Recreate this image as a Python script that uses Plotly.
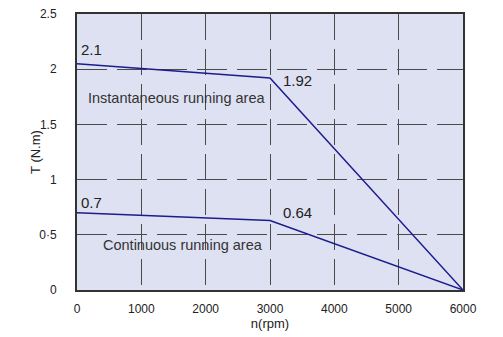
# Torque-speed curve for the motor datasheet
import plotly.graph_objects as go

speed = [0, 3000, 6000]
torque_peak = [2.05, 1.92, 0]
torque_cont = [0.70, 0.63, 0]

x_ticks = [0, 1000, 2000, 3000, 4000, 5000, 6000]
y_ticks = [0, 0.5, 1, 1.5, 2, 2.5]
y_labels = ["0", "0·5", "1", "1.5", "2", "2.5"]

point_labels = ["2.1", "1.92", "0.7", "0.64"]
point_x = [233, 3435, 233, 3420]
point_y = [2.18, 1.895, 0.794, 0.704]

line_color = "#1c1c8e"
grid_color = "#4a4a4a"
narrow = "Liberation Sans Narrow, Liberation Sans, sans-serif"
plain = "Arial, Liberation Sans, sans-serif"

fig = go.Figure()
fig.add_trace(go.Scatter(x=speed, y=torque_peak, mode="lines",
                         line=dict(color=line_color, width=1.5)))
fig.add_trace(go.Scatter(x=speed, y=torque_cont, mode="lines",
                         line=dict(color=line_color, width=1.5)))

for t, px, py in zip(point_labels, point_x, point_y):
    fig.add_annotation(x=px, y=py, text=t, showarrow=False, xanchor="center",
                       font=dict(family=narrow, size=15, color="#222"))

fig.add_annotation(x=1539, y=1.742, text="Instantaneous running area", showarrow=False,
                   font=dict(family=plain, size=14.5, color="#333"))
fig.add_annotation(x=1655, y=0.406, text="Continuous running area", showarrow=False,
                   font=dict(family=plain, size=14.5, color="#333"))

# y axis title placed by hand, plotly's standoff puts it too far left
fig.add_annotation(x=-0.109, y=0.5, xref="paper", yref="paper", text="T (N.m)",
                   textangle=-90, showarrow=False, xanchor="center",
                   font=dict(family=plain, size=13, color="#222"))

# page body adds 8px on the left/top, so the figure is a bit smaller
fig.update_layout(
    width=495, height=330,
    margin=dict(l=69, r=40, t=6, b=48),
    paper_bgcolor="white",
    plot_bgcolor="#dee1f2",
    showlegend=False,
)
fig.update_xaxes(
    range=[0, 6000], tickvals=x_ticks, ticks="", automargin=False,
    tickfont=dict(family=narrow, size=12, color="#222"),
    ticklabelstandoff=7,
    title=dict(text="n(rpm)", font=dict(family=plain, size=13, color="#222"),
               standoff=0),
    showgrid=True, gridcolor=grid_color, gridwidth=1.3, griddash="26px,9px",
    showline=True, linecolor="#333", linewidth=2, mirror=True,
    zeroline=False,
)
fig.update_yaxes(
    range=[0, 2.5], tickvals=y_ticks, ticktext=y_labels, ticks="", automargin=False,
    tickfont=dict(family=narrow, size=12, color="#222"),
    ticklabelstandoff=16, ticklabeloverflow="allow",
    showgrid=True, gridcolor=grid_color, gridwidth=1.3, griddash="30px,10px",
    showline=True, linecolor="#333", linewidth=2, mirror=True,
    zeroline=False,
)

fig.write_html("out.html")
